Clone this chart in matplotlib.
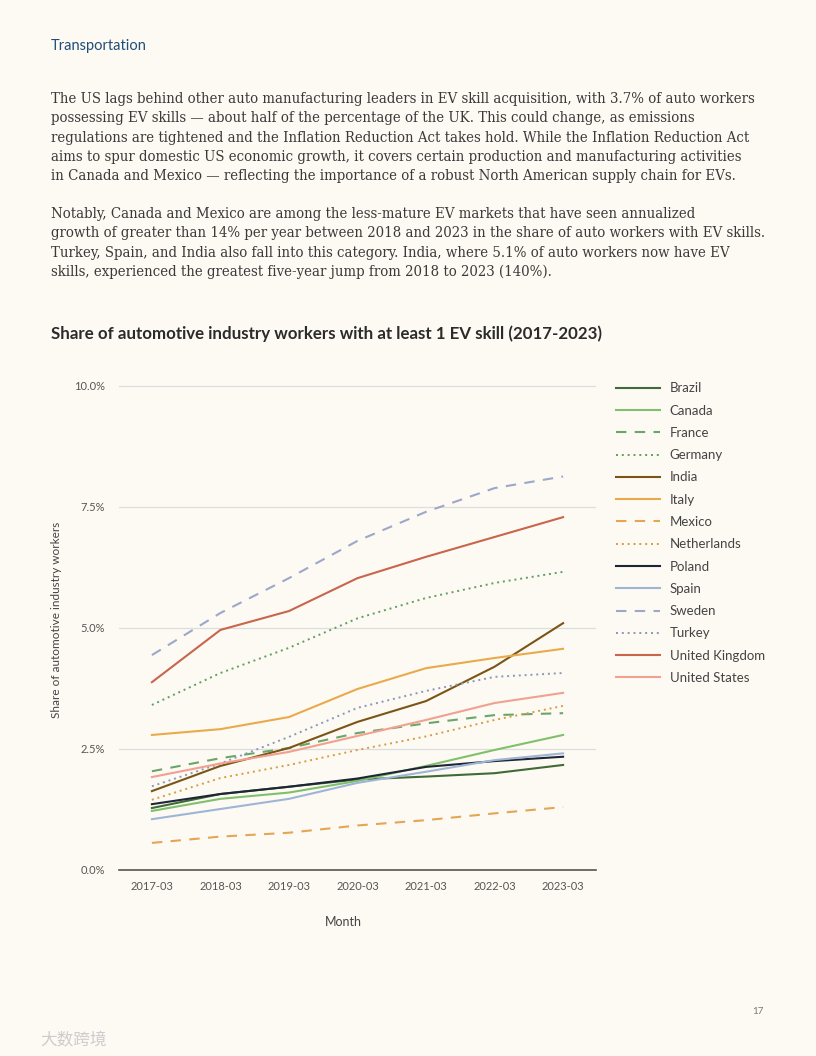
import numpy as np
import matplotlib.pyplot as plt

# chart data (share of auto workers with at least 1 EV skill, %)
months = ["2017-03", "2018-03", "2019-03", "2020-03", "2021-03", "2022-03", "2023-03"]
countries = ["Brazil", "Canada", "France", "Germany", "India", "Italy", "Mexico",
             "Netherlands", "Poland", "Spain", "Sweden", "Turkey",
             "United Kingdom", "United States"]

brazil = [1.28, 1.57, 1.72, 1.87, 1.93, 2.00, 2.17]
canada = [1.22, 1.47, 1.60, 1.84, 2.15, 2.48, 2.79]
france = [2.04, 2.31, 2.52, 2.83, 3.03, 3.20, 3.24]
germany = [3.41, 4.07, 4.59, 5.20, 5.62, 5.93, 6.16]
india = [1.63, 2.15, 2.52, 3.06, 3.49, 4.20, 5.10]
italy = [2.79, 2.91, 3.16, 3.74, 4.17, 4.38, 4.57]
mexico = [0.56, 0.69, 0.77, 0.92, 1.03, 1.17, 1.30]
netherlands = [1.45, 1.90, 2.17, 2.48, 2.76, 3.10, 3.39]
poland = [1.36, 1.57, 1.72, 1.89, 2.13, 2.25, 2.34]
spain = [1.05, 1.26, 1.47, 1.80, 2.03, 2.27, 2.41]
sweden = [4.44, 5.31, 6.03, 6.80, 7.40, 7.89, 8.13]
turkey = [1.73, 2.20, 2.75, 3.35, 3.70, 3.99, 4.07]
uk = [3.88, 4.96, 5.35, 6.03, 6.47, 6.88, 7.29]
us = [1.92, 2.20, 2.44, 2.77, 3.10, 3.45, 3.66]

series = [brazil, canada, france, germany, india, italy, mexico,
          netherlands, poland, spain, sweden, turkey, uk, us]

styles = [
    ("#3f6b36", "-"), ("#80c06c", "-"), ("#6aa66a", (0, (5, 4))), ("#5f9e5f", (0, (1, 2))),
    ("#7a5516", "-"), ("#e9aa4c", "-"), ("#e3a655", (0, (5, 4))), ("#d99b42", (0, (1, 2))),
    ("#1e2636", "-"), ("#9fb5d6", "-"), ("#9ea7c9", (0, (5, 4))), ("#8b97b9", (0, (1, 2))),
    ("#c9654c", "-"), ("#f0a18f", "-"),
]

bg = "#fdfaf4"
plt.rcParams["font.family"] = ["Lato", "DejaVu Sans"]

fig = plt.figure(figsize=(8.16, 10.56), dpi=100, facecolor=bg)

# page text
fig.text(51 / 816, 1 - 46 / 1056, "Transportation", color="#1f4e7a", fontsize=10.5,
         va="center", ha="left")

para1 = [
    "The US lags behind other auto manufacturing leaders in EV skill acquisition, with 3.7% of auto workers",
    "possessing EV skills \u2014 about half of the percentage of the UK. This could change, as emissions",
    "regulations are tightened and the Inflation Reduction Act takes hold. While the Inflation Reduction Act",
    "aims to spur domestic US economic growth, it covers certain production and manufacturing activities",
    "in Canada and Mexico \u2014 reflecting the importance of a robust North American supply chain for EVs.",
]
para2 = [
    "Notably, Canada and Mexico are among the less-mature EV markets that have seen annualized",
    "growth of greater than 14% per year between 2018 and 2023 in the share of auto workers with EV skills.",
    "Turkey, Spain, and India also fall into this category. India, where 5.1% of auto workers now have EV",
    "skills, experienced the greatest five-year jump from 2018 to 2023 (140%).",
]
for top, lines in [(99, para1), (214, para2)]:
    for i, line in enumerate(lines):
        fig.text(51 / 816, 1 - (top + i * 19.3) / 1056, line, color="#3a3a3a", fontsize=10.7,
                 family=["DejaVu Serif"], va="center", ha="left", fontstretch="condensed")

fig.text(51 / 816, 1 - 334 / 1056,
         "Share of automotive industry workers with at least 1 EV skill (2017-2023)",
         color="#2b2b2b", fontsize=12.2, fontweight="bold", va="center", ha="left")

# chart
ax = fig.add_axes([119 / 816, 1 - 870 / 1056, (596 - 119) / 816, (870 - 370) / 1056])
ax.set_facecolor(bg)
x = np.arange(len(months))
for name, vals, (col, ls) in zip(countries, series, styles):
    lw = 1.4 if ls == (0, (1, 2)) else 1.5
    ax.plot(x, vals, color=col, linestyle=ls, linewidth=lw, label=name)

ax.set_xlim(-0.48, 6.48)
ax.set_ylim(0, 10.33)
ax.set_yticks([0, 2.5, 5, 7.5, 10])
ax.set_yticklabels(["0.0%", "2.5%", "5.0%", "7.5%", "10.0%"])
ax.set_xticks(x)
ax.set_xticklabels(months)
ax.tick_params(length=0, labelsize=8, colors="#555555", pad=8)
ax.tick_params(axis="y", pad=10)
ax.grid(axis="y", color="#dddddd", linewidth=0.9)
ax.set_axisbelow(True)
for s in ["top", "right", "left"]:
    ax.spines[s].set_visible(False)
ax.spines["bottom"].set_color("#555555")
ax.spines["bottom"].set_linewidth(1.2)

ax.set_xlabel("Month", fontsize=9, color="#444444", labelpad=16)
ax.xaxis.set_label_coords(0.47, -0.092)
ax.set_ylabel("Share of automotive industry workers", fontsize=8.5, color="#444444", labelpad=9)

leg = ax.legend(loc="upper left", bbox_to_anchor=(1.03, 1.0 - 7 / 500), frameon=False,
                fontsize=9.5, handlelength=3.4, labelspacing=0.78, handletextpad=0.7,
                labelcolor="#444444", borderaxespad=0)

# page footer
fig.text(758 / 816, 1 - 1012 / 1056, "17", color="#777777", fontsize=7, ha="center", va="center")
fig.text(40 / 816, 1 - 1041 / 1056, "\u5927\u6570\u8de8\u5883", color="#cccccc", fontsize=12,
         family=["Noto Sans CJK SC", "DejaVu Sans"], ha="left", va="center")

fig.savefig("out.png", dpi=100, facecolor=bg)
